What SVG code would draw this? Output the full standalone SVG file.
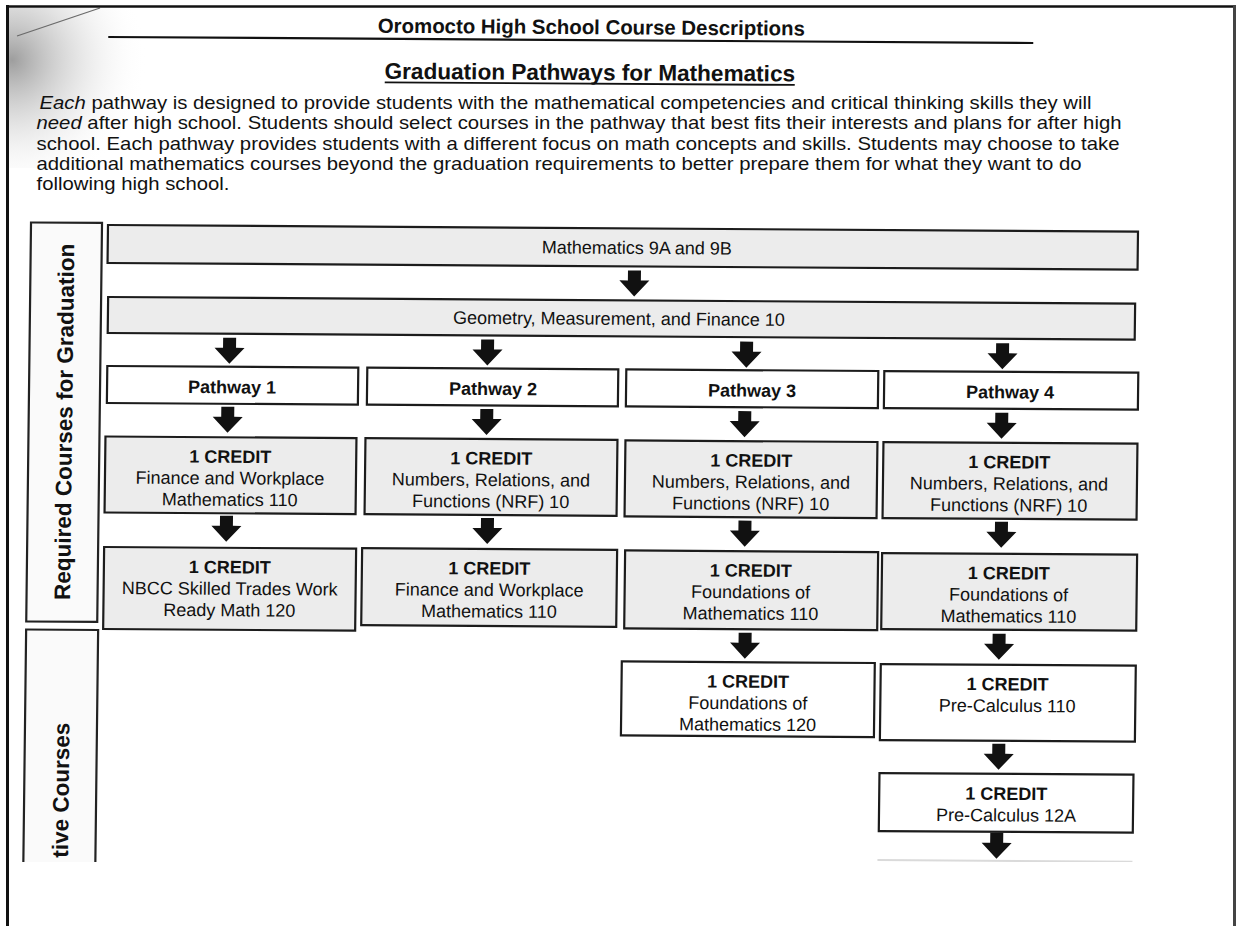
<svg xmlns="http://www.w3.org/2000/svg" width="1239" height="926" viewBox="0 0 1239 926">
<defs>
<style>
.t{font-family:"Liberation Sans",Arial,Helvetica,sans-serif;fill:#111}
.b{font-weight:bold}
.bx{font-size:18px;text-anchor:middle}
.box{stroke:#1c1c1c;stroke-width:2.2}
.grey{fill:#ececec}
.white{fill:#ffffff}
.lab{fill:#fafafa;stroke:#222;stroke-width:2.2}
.arr{fill:#111}
.par{font-size:18.2px}
</style>
<radialGradient id="shade" gradientUnits="userSpaceOnUse" cx="12" cy="60" r="135">
<stop offset="0" stop-color="#939393" stop-opacity="0.9"/>
<stop offset="0.45" stop-color="#c8c8c8" stop-opacity="0.55"/>
<stop offset="1" stop-color="#ffffff" stop-opacity="0"/>
</radialGradient>
<clipPath id="scan"><rect x="0" y="0" width="1239" height="862"/></clipPath>
<path id="arrow" d="M-6.5 0H6.5V10H15L0 26L-15 10H-6.5Z"/>
</defs>
<rect width="1239" height="926" fill="#fff"/>
<rect x="9" y="8" width="220" height="160" fill="url(#shade)"/>
<path d="M17 36L100 8" stroke="#6a6a6a" stroke-width="1.3" fill="none"/>

<g clip-path="url(#scan)">
<g id="intro">
<text class="t par" x="39.5" y="108.5" textLength="1052" lengthAdjust="spacingAndGlyphs"><tspan font-style="italic">Each</tspan> pathway is designed to provide students with the mathematical competencies and critical thinking skills they will</text>
<text class="t par" x="36.5" y="129" textLength="1085" lengthAdjust="spacingAndGlyphs"><tspan font-style="italic">need</tspan> after high school. Students should select courses in the pathway that best fits their interests and plans for after high</text>
<text class="t par" x="36.5" y="149.5" textLength="1083" lengthAdjust="spacingAndGlyphs">school. Each pathway provides students with a different focus on math concepts and skills. Students may choose to take</text>
<text class="t par" x="36.5" y="170" textLength="1045" lengthAdjust="spacingAndGlyphs">additional mathematics courses beyond the graduation requirements to better prepare them for what they want to do</text>
<text class="t par" x="36.5" y="189.5" textLength="193" lengthAdjust="spacingAndGlyphs">following high school.</text>
</g>
<g transform="matrix(1,0.0065,-0.012,1,2.7,-0.7)">
<g id="header">
<text class="t b" x="589" y="31" font-size="20.4" text-anchor="middle">Oromocto High School Course Descriptions</text>
<path d="M106 37H1031" stroke="#111" stroke-width="2.2"/>
<text class="t b" x="588" y="77" font-size="22.6" text-anchor="middle">Graduation Pathways for Mathematics</text>
<path d="M383 80.5H793" stroke="#111" stroke-width="1.8"/>
</g>

<g id="label-required">
<rect class="lab" x="31" y="223" width="71" height="399"/>
<text class="t b" font-size="22.5" text-anchor="middle" transform="translate(74.5,422) rotate(-90)">Required Courses for Graduation</text>
</g>
<g id="label-alternative">
<rect class="lab" x="31" y="630" width="72" height="300"/>
<text class="t b" font-size="22.5" text-anchor="end" transform="translate(75.5,723) rotate(-90)">tive Courses</text>
</g>

<g id="math9">
<rect class="box grey" x="108" y="225" width="1030" height="38"/>
<text class="t bx" x="637" y="250.5">Mathematics 9A and 9B</text>
</g>
<g id="geometry10">
<rect class="box grey" x="109" y="297" width="1027" height="36"/>
<text class="t bx" x="620" y="321.5">Geometry, Measurement, and Finance 10</text>
</g>

<g id="pathway1">
<rect class="box white" x="109" y="366" width="251" height="37"/>
<text class="t bx b" x="234" y="392.5">Pathway 1</text>
</g>
<g id="pathway2">
<rect class="box white" x="369" y="366" width="251" height="37"/>
<text class="t bx b" x="495" y="392.5">Pathway 2</text>
</g>
<g id="pathway3">
<rect class="box white" x="628" y="366" width="252" height="37"/>
<text class="t bx b" x="754" y="392.5">Pathway 3</text>
</g>
<g id="pathway4">
<rect class="box white" x="886" y="366" width="254" height="37"/>
<text class="t bx b" x="1012" y="392.5">Pathway 4</text>
</g>

<g id="p1-fwm110">
<rect class="box grey" x="108" y="436.5" width="251" height="76"/>
<text class="t bx b" x="233" y="462">1 CREDIT</text>
<text class="t bx" x="233" y="483.5">Finance and Workplace</text>
<text class="t bx" x="233" y="505">Mathematics 110</text>
</g>
<g id="p2-nrf10">
<rect class="box grey" x="368" y="436.5" width="252" height="76"/>
<text class="t bx b" x="494" y="462">1 CREDIT</text>
<text class="t bx" x="494" y="483.5">Numbers, Relations, and</text>
<text class="t bx" x="494" y="505">Functions (NRF) 10</text>
</g>
<g id="p3-nrf10">
<rect class="box grey" x="628" y="437" width="252" height="76"/>
<text class="t bx b" x="754" y="462.5">1 CREDIT</text>
<text class="t bx" x="754" y="484">Numbers, Relations, and</text>
<text class="t bx" x="754" y="505.5">Functions (NRF) 10</text>
</g>
<g id="p4-nrf10">
<rect class="box grey" x="886" y="437" width="254" height="76"/>
<text class="t bx b" x="1012" y="462.5">1 CREDIT</text>
<text class="t bx" x="1012" y="484">Numbers, Relations, and</text>
<text class="t bx" x="1012" y="505.5">Functions (NRF) 10</text>
</g>

<g id="p1-nbcc120">
<rect class="box grey" x="108" y="547" width="252" height="82"/>
<text class="t bx b" x="234" y="572.5">1 CREDIT</text>
<text class="t bx" x="234" y="594">NBCC Skilled Trades Work</text>
<text class="t bx" x="234" y="615.5">Ready Math 120</text>
</g>
<g id="p2-fwm110">
<rect class="box grey" x="366" y="546.5" width="255" height="77"/>
<text class="t bx b" x="493.5" y="572">1 CREDIT</text>
<text class="t bx" x="493.5" y="593.5">Finance and Workplace</text>
<text class="t bx" x="493.5" y="615">Mathematics 110</text>
</g>
<g id="p3-fom110">
<rect class="box grey" x="629" y="547" width="253" height="78"/>
<text class="t bx b" x="755" y="572.5">1 CREDIT</text>
<text class="t bx" x="755" y="594">Foundations of</text>
<text class="t bx" x="755" y="615.5">Mathematics 110</text>
</g>
<g id="p4-fom110">
<rect class="box grey" x="886" y="548" width="255" height="76"/>
<text class="t bx b" x="1013" y="573.5">1 CREDIT</text>
<text class="t bx" x="1013" y="595">Foundations of</text>
<text class="t bx" x="1013" y="616.5">Mathematics 110</text>
</g>

<g id="p3-fom120">
<rect class="box white" x="627" y="658" width="253" height="74"/>
<text class="t bx b" x="753.5" y="683.5">1 CREDIT</text>
<text class="t bx" x="753.5" y="705">Foundations of</text>
<text class="t bx" x="753.5" y="726.5">Mathematics 120</text>
</g>
<g id="p4-pc110">
<rect class="box white" x="886" y="659" width="255" height="76"/>
<text class="t bx b" x="1013" y="684.5">1 CREDIT</text>
<text class="t bx" x="1013" y="706">Pre-Calculus 110</text>
</g>
<g id="p4-pc12a">
<rect class="box white" x="886" y="768" width="254" height="58"/>
<text class="t bx b" x="1013" y="794">1 CREDIT</text>
<text class="t bx" x="1013" y="815.5">Pre-Calculus 12A</text>
</g>
<path d="M885 855H1140" stroke="#dadada" stroke-width="2"/>

<g id="connectors" class="arr">
<use href="#arrow" x="635" y="267"/>
<use href="#arrow" x="231" y="337"/>
<use href="#arrow" x="489" y="337"/>
<use href="#arrow" x="748" y="337.5"/>
<use href="#arrow" x="1004" y="337.5"/>
<use href="#arrow" x="230" y="406"/>
<use href="#arrow" x="489" y="406.5"/>
<use href="#arrow" x="747" y="407"/>
<use href="#arrow" x="1004" y="407"/>
<use href="#arrow" x="230" y="515"/>
<use href="#arrow" x="491" y="515.5"/>
<use href="#arrow" x="748.5" y="516.5"/>
<use href="#arrow" x="1005" y="516"/>
<use href="#arrow" x="750" y="628.5"/>
<use href="#arrow" x="1004" y="628"/>
<use href="#arrow" x="1005" y="738"/>
<use href="#arrow" x="1004" y="827"/>
</g>
</g>
</g>

<g id="frame" fill="none">
<path d="M6 6.5H1236" stroke="#111" stroke-width="2.5"/>
<path d="M7.5 5V926" stroke="#111" stroke-width="3"/>
<path d="M1234.5 5V926" stroke="#444" stroke-width="3"/>
</g>
</svg>
